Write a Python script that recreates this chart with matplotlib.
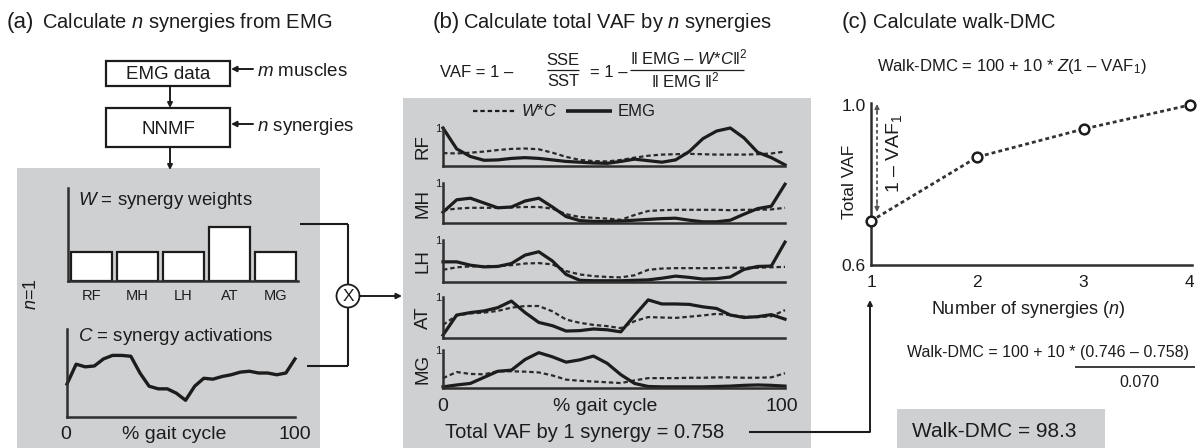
import matplotlib
matplotlib.use('Agg')
import matplotlib.pyplot as plt
from matplotlib.patches import Rectangle, Circle

plt.rcParams['font.family'] = ['Liberation Sans', 'DejaVu Sans']
plt.rcParams['mathtext.fontset'] = 'custom'
plt.rcParams['mathtext.rm'] = 'Liberation Sans'
plt.rcParams['mathtext.it'] = 'Liberation Sans:italic'
plt.rcParams['mathtext.bf'] = 'Liberation Sans:bold'
plt.rcParams['mathtext.sf'] = 'Liberation Sans'

# ---------------- data ----------------
muscles = ['RF', 'MH', 'LH', 'AT', 'MG']
synergy_weights = [0.54, 0.53, 0.53, 1.00, 0.54]

gait_pct = [0, 4, 8, 12, 16, 20, 24, 28, 32, 36, 40, 44, 48, 52,
            56, 60, 64, 68, 72, 76, 80, 84, 88, 92, 96, 100]

synergy_activation = [0.375, 0.60, 0.57, 0.58, 0.66, 0.70, 0.70, 0.69, 0.50, 0.35, 0.32, 0.32, 0.27,
                      0.19, 0.35, 0.44, 0.43, 0.46, 0.48, 0.51, 0.52, 0.50, 0.50, 0.48, 0.50, 0.66]

emg_rf = [1.00, 0.45, 0.25, 0.15, 0.16, 0.20, 0.22, 0.20, 0.16, 0.12, 0.10, 0.08, 0.07,
          0.12, 0.18, 0.14, 0.10, 0.16, 0.38, 0.72, 0.92, 1.00, 0.74, 0.36, 0.22, 0.03]
wc_rf = [0.34, 0.33, 0.35, 0.38, 0.42, 0.45, 0.46, 0.44, 0.35, 0.24, 0.16, 0.13, 0.12,
         0.16, 0.22, 0.27, 0.30, 0.31, 0.32, 0.31, 0.30, 0.30, 0.30, 0.31, 0.33, 0.38]

emg_mh = [0.27, 0.58, 0.62, 0.50, 0.38, 0.40, 0.55, 0.62, 0.40, 0.16, 0.06, 0.04, 0.04,
          0.05, 0.07, 0.09, 0.11, 0.12, 0.07, 0.03, 0.03, 0.07, 0.22, 0.36, 0.42, 0.97]
wc_mh = [0.32, 0.36, 0.38, 0.38, 0.38, 0.39, 0.40, 0.40, 0.36, 0.22, 0.15, 0.13, 0.11,
         0.08, 0.20, 0.30, 0.32, 0.33, 0.33, 0.33, 0.33, 0.32, 0.33, 0.33, 0.34, 0.38]

emg_lh = [0.48, 0.48, 0.40, 0.36, 0.37, 0.44, 0.64, 0.72, 0.50, 0.18, 0.04, 0.03, 0.03,
          0.03, 0.04, 0.05, 0.09, 0.14, 0.11, 0.07, 0.08, 0.12, 0.30, 0.37, 0.38, 0.95]
wc_lh = [0.29, 0.35, 0.37, 0.38, 0.38, 0.40, 0.44, 0.45, 0.42, 0.26, 0.18, 0.14, 0.12,
         0.11, 0.16, 0.29, 0.32, 0.33, 0.33, 0.33, 0.33, 0.34, 0.34, 0.34, 0.35, 0.36]

emg_at = [0.07, 0.56, 0.62, 0.66, 0.74, 0.90, 0.62, 0.38, 0.30, 0.17, 0.18, 0.22, 0.20,
          0.15, 0.55, 0.93, 0.83, 0.83, 0.82, 0.76, 0.72, 0.56, 0.50, 0.52, 0.57, 0.46]
wc_at = [0.32, 0.55, 0.60, 0.62, 0.66, 0.74, 0.78, 0.78, 0.65, 0.45, 0.37, 0.32, 0.29,
         0.24, 0.41, 0.51, 0.50, 0.49, 0.52, 0.55, 0.59, 0.56, 0.52, 0.51, 0.53, 0.68]

emg_mg = [0.03, 0.08, 0.12, 0.28, 0.44, 0.47, 0.75, 0.93, 0.82, 0.68, 0.74, 0.84, 0.65,
          0.35, 0.12, 0.04, 0.03, 0.03, 0.03, 0.03, 0.04, 0.05, 0.07, 0.08, 0.07, 0.05]
wc_mg = [0.26, 0.42, 0.37, 0.36, 0.44, 0.44, 0.43, 0.41, 0.33, 0.22, 0.19, 0.17, 0.15,
         0.13, 0.20, 0.26, 0.26, 0.26, 0.27, 0.27, 0.28, 0.28, 0.27, 0.27, 0.28, 0.39]

n_synergies = [1, 2, 3, 4]
total_vaf = [0.71, 0.87, 0.94, 1.00]

# ---------------- figure ----------------
W, H = 1199, 448
GRAY = '#cfd0d2'
INK = '#1c1c1c'
SPINE = '#2e2e2e'
SANS = ['Liberation Sans', 'DejaVu Sans']

fig = plt.figure(figsize=(W / 100, H / 100), dpi=100)
ov = fig.add_axes([0, 0, 1, 1])
ov.set_xlim(0, W)
ov.set_ylim(H, 0)
ov.set_autoscale_on(False)
ov.axis('off')


def pax(x0, y0, x1, y1):
    ax = fig.add_axes([x0 / W, 1 - y1 / H, (x1 - x0) / W, (y1 - y0) / H])
    ax.patch.set_alpha(0)
    for s in ['top', 'right']:
        ax.spines[s].set_visible(False)
    for s in ['left', 'bottom']:
        ax.spines[s].set_linewidth(1.8)
        ax.spines[s].set_color(SPINE)
    return ax


def T(x, y, s, fs, ha='left', va='baseline', **kw):
    ov.text(x, y, s, fontsize=fs, ha=ha, va=va, color=INK, zorder=5,
            family=SANS, **kw)


def arrow(x0, y0, x1, y1, lw=1.4, ms=9, color=INK):
    ov.annotate('', xy=(x1, y1), xytext=(x0, y0),
                arrowprops=dict(arrowstyle='-|>', lw=lw, color=color, shrinkA=0,
                                shrinkB=0, mutation_scale=ms))


def line(xs, ys, lw=1.5, **kw):
    ov.plot(xs, ys, color=INK, lw=lw, solid_capstyle='butt', zorder=2, **kw)


# gray backgrounds
ov.add_patch(Rectangle((17, 168), 303, 290, fc=GRAY, ec='none', zorder=0))
ov.add_patch(Rectangle((403, 98), 408, 360, fc=GRAY, ec='none', zorder=0))
ov.add_patch(Rectangle((897, 409), 208, 50, fc=GRAY, ec='none', zorder=0))

# ---------------- panel (a) ----------------
T(7, 28, '(a)', 16)
T(42, 28, 'Calculate $n$ synergies from EMG', 14.5)

ov.add_patch(Rectangle((106, 61), 124, 25, fc='white', ec=INK, lw=1.6, zorder=3))
T(168, 79, 'EMG data', 13.5, ha='center')
ov.add_patch(Rectangle((106, 108), 124, 39, fc='white', ec=INK, lw=1.6, zorder=3))
T(168, 134, 'NNMF', 13.5, ha='center')
arrow(170, 86, 170, 108, ms=7)
arrow(170, 147, 170, 170, ms=7)
arrow(253, 69, 231, 69, ms=8)
T(257, 76, '$m$ muscles', 13.5)
arrow(253, 124, 231, 124, ms=8)
T(257, 131, '$n$ synergies', 13.5)

T(78, 205, '$W$ = synergy weights', 13.5)
T(31, 294, '$n$=1', 13, ha='center', va='center', rotation=90)
T(78, 341, '$C$ = synergy activations', 13.5)

axw = pax(68, 188, 298, 281)
axw.bar(range(len(muscles)), synergy_weights, width=0.87, fc='white', ec=INK, lw=1.6)
axw.set_xlim(-0.511, 4.489)
axw.set_ylim(0, 1.72)
axw.set_xticks(range(len(muscles)))
axw.set_xticklabels(muscles, fontsize=10.5, color=INK)
axw.set_yticks([])
axw.tick_params(axis='x', length=0, pad=6)

axc = pax(67, 329, 295, 417)
axc.plot(gait_pct, synergy_activation, color=INK, lw=2.4, clip_on=False)
axc.set_xlim(0, 100)
axc.set_ylim(0, 1)
axc.set_xticks([])
axc.set_yticks([])
T(66, 439, '0', 14, ha='center')
T(174, 439, '% gait cycle', 14, ha='center')
T(295, 439, '100', 14, ha='center')

# connectors to the multiplication sign
line([300, 348], [224, 224])
line([348, 348], [224, 285])
line([307, 348], [366, 366])
line([348, 348], [366, 307])
ov.add_patch(Circle((348, 296), 11.5, fc='white', ec=INK, lw=1.3, zorder=3))
T(348, 296.5, 'X', 12.5, ha='center', va='center')
arrow(359.5, 296, 402, 296, ms=8)

# ---------------- panel (b) ----------------
T(433, 28, '(b)', 16)
T(463, 28, 'Calculate total VAF by $n$ synergies', 14.5)

FS_F = 12
T(440, 77, 'VAF = 1 \u2013', FS_F)
T(563, 65, 'SSE', FS_F, ha='center')
line([547, 579], [70, 70], lw=0.9)
T(563, 86, 'SST', FS_F, ha='center')
T(590, 77, '= 1 \u2013', FS_F)
T(688, 64, '\u2016 EMG \u2013 $W$*$C$\u2016$^{2}$', FS_F, ha='center')
line([630, 744], [70, 70], lw=0.9)
T(685, 87, '\u2016 EMG \u2016$^{2}$', FS_F, ha='center')

# legend
ov.plot([473, 515], [111, 111], color=INK, lw=1.6, ls=(0, (2, 1.3)), zorder=2)
T(521, 116, '$W$*$C$', 12)
line([566, 612], [111, 111], lw=2.6)
T(618, 116, 'EMG', 12)

rows = [('RF', 128, 166, emg_rf, wc_rf),
        ('MH', 183, 223, emg_mh, wc_mh),
        ('LH', 240, 282, emg_lh, wc_lh),
        ('AT', 297, 338, emg_at, wc_at),
        ('MG', 350, 388, emg_mg, wc_mg)]
for name, top, base, emg, wc in rows:
    ax = pax(443, top, 785, base)
    ax.plot(gait_pct, wc, color='#2a2a2a', lw=1.6, ls=(0, (2, 1.3)), clip_on=False)
    ax.plot(gait_pct, emg, color=INK, lw=2.3, clip_on=False)
    ax.set_xlim(0, 100)
    ax.set_ylim(0, 1)
    ax.set_xticks([])
    ax.set_yticks([1])
    ax.set_yticklabels(['1'], fontsize=8, color=INK)
    ax.tick_params(axis='y', length=0, pad=1)
    T(423, (top + base) / 2, name, 13.5, ha='center', va='center', rotation=90)

T(443, 411, '0', 14, ha='center')
T(605, 411, '% gait cycle', 14, ha='center')
T(782, 411, '100', 14, ha='center')
T(445, 438, 'Total VAF by 1 synergy = 0.758', 14.5)

line([749, 870], [432, 432])
arrow(870, 432, 870, 300, ms=7)

# ---------------- panel (c) ----------------
T(842, 28, '(c)', 16)
T(873, 28, 'Calculate walk-DMC', 14.5)
T(877, 71, 'Walk-DMC = 100 + 10 * $Z$(1 \u2013 VAF$_1$)', 12)

axv = pax(871, 103, 1192, 265)
axv.plot(n_synergies, total_vaf, color='#333333', lw=2.0, ls=(0, (1.4, 1.1)),
         marker='o', ms=7, mfc='white', mec=INK, mew=1.8, clip_on=False, zorder=5)
axv.set_xlim(1, 4.02)
axv.set_ylim(0.6, 1.005)
axv.set_xticks(n_synergies)
axv.set_xticklabels([str(n) for n in n_synergies], fontsize=12.5, color=INK)
axv.set_yticks([0.6, 1.0])
axv.set_yticklabels(['0.6', '1.0'], fontsize=12.5, color=INK)
axv.tick_params(axis='x', length=0, pad=7)
axv.tick_params(axis='y', length=0, pad=4)

T(850, 182, 'Total VAF', 12.5, ha='center', va='center', rotation=90)
ov.plot([877, 877], [111, 205], color='#555555', lw=1.3, ls=(0, (2, 1.5)), zorder=2)
arrow(877, 113, 877, 104, lw=1.0, ms=7, color='#555555')
arrow(877, 203, 877, 212, lw=1.0, ms=7, color='#555555')
T(894, 153, '1 \u2013 VAF$_1$', 14, ha='center', va='center', rotation=90)

T(1028, 314, 'Number of synergies ($n$)', 13, ha='center')
T(907, 357, 'Walk-DMC = 100 + 10 * (0.746 \u2013 0.758)', 11.5)
line([1075, 1195], [367, 367], lw=1.2)
T(1139, 387, '0.070', 11.5, ha='center')
T(912, 437, 'Walk-DMC = 98.3', 15)

fig.savefig('out.png', dpi=100)
